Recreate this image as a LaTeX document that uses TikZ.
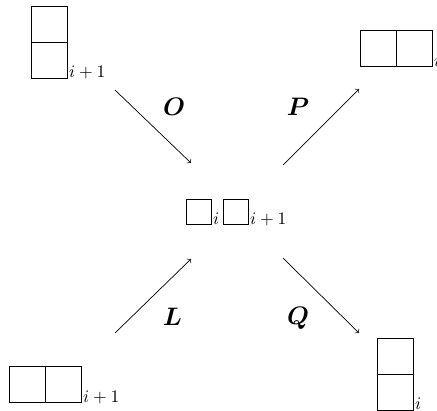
\documentclass[tikz,border=0pt]{standalone}
\usepackage{amsmath}
\usetikzlibrary{positioning}

\tikzset{
	cell/.style = {draw, minimum size = 0.72cm, inner sep = 0pt, outer sep = 0pt},
	small cell/.style = {cell, minimum size = 0.5cm},
	idx/.style = {anchor = base west, inner sep = 0pt, xshift = 1pt},
	move/.style = {font = \Large}
}

\begin{document}
\begin{tikzpicture}[x = 0.02cm, y = -0.02cm, >= to]
		\useasboundingbox (0,0) rectangle (437,410);
		% the four dominoes
		\node [cell] (tl1) at (49,24) {};
		\node [cell, below = 0pt of tl1] (tl2) {};
		\node [idx] (tli) at (tl2.south east) {$i+1$};
		\node [cell] (tr1) at (378,48.5) {};
		\node [cell, right = 0pt of tr1] (tr2) {};
		\node [idx] (tri) at (tr2.south east) {$i$};
		\node [cell] (bl1) at (27,384) {};
		\node [cell, right = 0pt of bl1] (bl2) {};
		\node [idx] (bli) at (bl2.south east) {$i+1$};
		\node [cell] (br1) at (395,356) {};
		\node [cell, below = 0pt of br1] (br2) {};
		\node [idx] (bri) at (br2.south east) {$i$};
		% the two single cells in the middle
		\node [small cell] (c1) at (198.5,211.5) {};
		\node [idx] (ci) at (c1.south east) {$i$};
		\node [small cell] (c2) at (235.5,211.5) {};
		\node [idx] (cj) at (c2.south east) {$i+1$};
		% arrows
		\coordinate (o0) at (115,90);  \coordinate (o1) at (191,163);
		\coordinate (p0) at (283,165); \coordinate (p1) at (359,89);
		\coordinate (l0) at (115,333); \coordinate (l1) at (191,259);
		\coordinate (q0) at (283,258); \coordinate (q1) at (359,333);
		\draw [->] (o0) -- (o1);
		\draw [->] (p0) -- (p1);
		\draw [->] (l0) -- (l1);
		\draw [->] (q0) -- (q1);
		\node [move] (lo) at (174,107) {$\boldsymbol{O}$};
		\node [move] (lp) at (298,107) {$\boldsymbol{P}$};
		\node [move] (ll) at (172.5,317) {$\boldsymbol{L}$};
		\node [move] (lq) at (298,318) {$\boldsymbol{Q}$};
	\end{tikzpicture}
\end{document}
